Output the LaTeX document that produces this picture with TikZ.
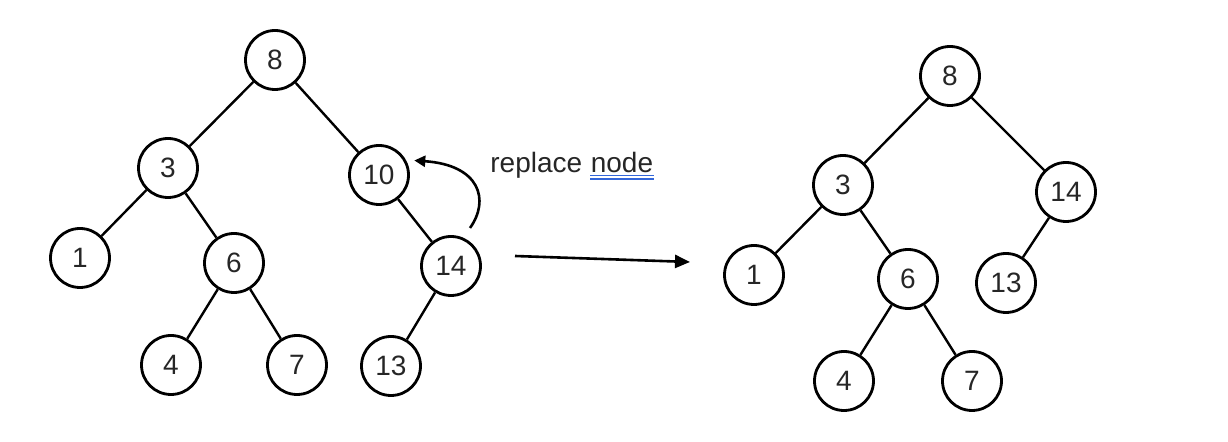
\documentclass[tikz,border=0pt]{standalone}
\usepackage{fontspec}
\setmainfont{Liberation Sans}
\usetikzlibrary{arrows.meta}
\tikzset{vert/.style = {draw, circle, line width = 1.4pt, inner sep = 0, minimum size = 29.5pt, text = black!85, font = \fontsize{14}{16}\selectfont}}
\tikzset{edge/.style = {line width = 1.2pt}}
\tikzset{lbl/.style = {inner sep = 0, text = black!85, font = \fontsize{14}{16}\selectfont}}
\definecolor{sblue}{rgb}{0.2, 0.4, 0.85}

\begin{document}
\begin{tikzpicture}[x = 0.5pt, y = -0.5pt]
      \useasboundingbox (0, 0) rectangle (1228, 442);
      % tree before
      \foreach \n/\x/\y in {8/275/60, 3/168/168, 10/379/175, 1/80/258, 6/234/263, 14/451/266, 4/171/365, 7/297/365, 13/391/366} {
        \node [vert] (a\n) at (\x, \y) {\n};
      }
      \foreach \p/\c in {8/3, 8/10, 3/1, 3/6, 6/4, 6/7, 10/14, 14/13} {
        \draw [edge] (a\p) -- (a\c);
      }
      % tree after
      \foreach \n/\x/\y in {8/950/76, 3/843/185, 14/1066/192, 1/754/275, 6/908/279, 13/1006/283, 4/844/381, 7/972/381} {
        \node [vert] (b\n) at (\x, \y) {\n};
      }
      \foreach \p/\c in {8/3, 8/14, 3/1, 3/6, 6/4, 6/7, 14/13} {
        \draw [edge] (b\p) -- (b\c);
      }
      % replacement
      \coordinate (swap) at (470, 228);
      \draw [line width = 1.3pt, -{Triangle[length = 5.5pt, width = 5.5pt]}] (swap) .. controls (490, 200) and (480, 165) .. ([xshift = 4pt]a10.28);
      \node [lbl, anchor = base west] (rep) at (490, 173) {replace};
      \node [lbl, anchor = base west] (word) at ([xshift = 3.9pt]rep.base east) {node};
      \draw [sblue, line width = 0.9pt] ([yshift = -1.3pt]word.base west) -- ([yshift = -1.3pt]word.base east);
      \draw [sblue, line width = 0.9pt] ([yshift = -3pt]word.base west) -- ([yshift = -3pt]word.base east);
      \coordinate (from) at (515, 256);
      \coordinate (to) at (690, 262);
      \draw [line width = 1.3pt, -{Triangle[length = 7.5pt, width = 6.5pt]}] (from) -- (to);
    \end{tikzpicture}
\end{document}
